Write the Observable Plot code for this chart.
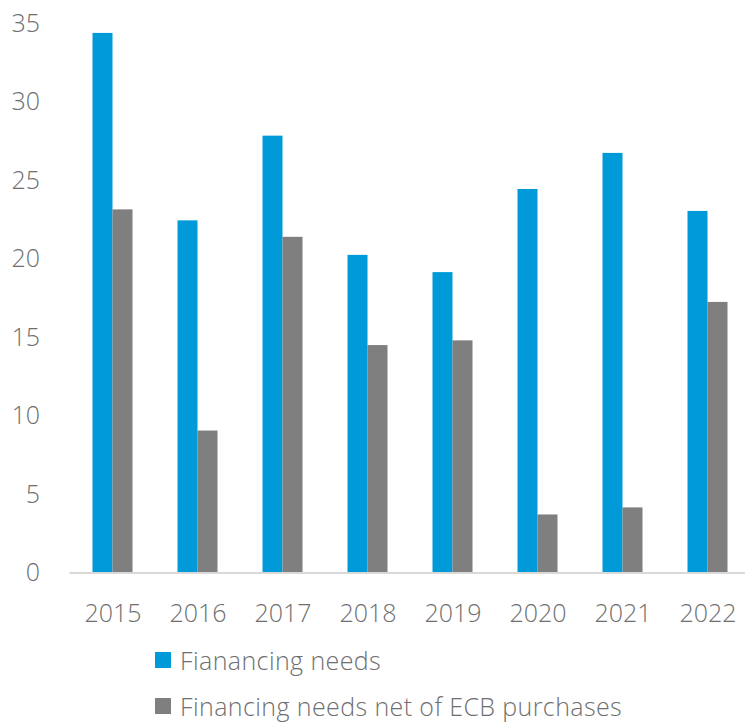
<!DOCTYPE html>
<html>
<head>
<meta charset="utf-8">
<script src="https://cdn.jsdelivr.net/npm/d3@7"></script>
<script src="https://cdn.jsdelivr.net/npm/@observablehq/plot@0.6"></script>
<style>
  html, body { margin: 0; padding: 0; background: #fff; }
  body { width: 745px; height: 722px; overflow: hidden; font-family: "Open Sans", sans-serif; font-weight: 300; color: #6f6f6f; }
  #legend { padding-left: 155px; margin-top: -1px; }
  .row { height: 46px; display: flex; align-items: center; font-size: 25px; letter-spacing: 0.4px; white-space: nowrap; }
  .sw { width: 16px; height: 16px; margin-right: 9px; flex: none; }
</style>
</head>
<body>
<div id="chart"></div>
<div id="legend"></div>
<script>
const years = ["2015", "2016", "2017", "2018", "2019", "2020", "2021", "2022"];
const seriesNames = ["Fianancing needs", "Financing needs net of ECB purchases"];
const financingNeeds = [34.4, 22.45, 27.85, 20.25, 19.15, 24.45, 26.75, 23.05];
const netOfECB = [23.15, 9.05, 21.4, 14.5, 14.8, 3.7, 4.15, 17.25];
const yTicks = [0, 5, 10, 15, 20, 25, 30, 35];
const colors = ["#009ad8", "#7f7f7f"];

const blue = years.map((y, i) => ({year: y, series: seriesNames[0], value: financingNeeds[i]}));
const grey = years.map((y, i) => ({year: y, series: seriesNames[1], value: netOfECB[i]}));

const chart = Plot.plot({
  width: 745,
  height: 638,
  marginLeft: 69.5,
  marginRight: -4.5,
  marginTop: 23.5,
  marginBottom: 65.5,
  style: {fontFamily: "Open Sans", fontWeight: 300, fontSize: "25px", color: "#6f6f6f", background: "white"},
  x: {domain: years, padding: 0, label: null, tickSize: 0, tickPadding: 31},
  y: {domain: [0, 35], ticks: yTicks, tickSize: 0, tickPadding: 30, label: null, tickFormat: d3.format("d")},
  color: {domain: seriesNames, range: colors},
  marks: [
    Plot.barY(blue, {x: "year", y: "value", fill: "series", insetLeft: 22.5, insetRight: 42.5}),
    Plot.barY(grey, {x: "year", y: "value", fill: "series", insetLeft: 42.5, insetRight: 22.5}),
    Plot.ruleY([0], {stroke: "#d9d9d9", strokeWidth: 2})
  ]
});
document.getElementById("chart").appendChild(chart);

const legend = document.getElementById("legend");
seriesNames.forEach((name, i) => {
  const row = document.createElement("div");
  row.className = "row";
  const sw = document.createElement("span");
  sw.className = "sw";
  sw.style.background = chart.scale("color").apply(name);
  const label = document.createElement("span");
  label.textContent = name;
  row.appendChild(sw);
  row.appendChild(label);
  legend.appendChild(row);
});
</script>
</body>
</html>
